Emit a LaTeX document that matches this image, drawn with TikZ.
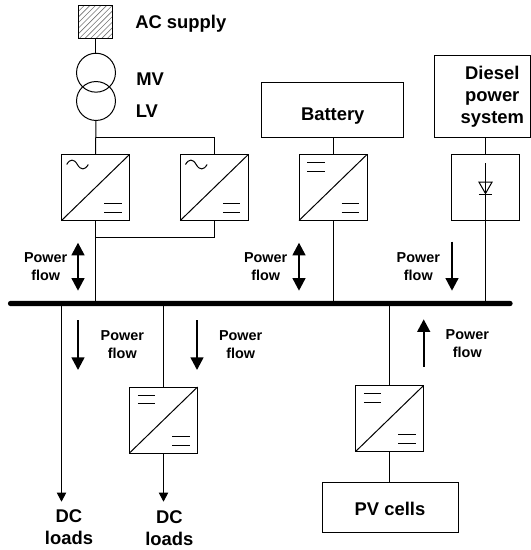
\documentclass[tikz,border=0pt]{standalone}
\usepackage{fontspec}
\setmainfont{Liberation Sans}
\usetikzlibrary{arrows.meta,calc}
\tikzset{
  wire/.style={line width=0.75pt,black},
  boxnode/.style={draw,line width=0.75pt,inner sep=0pt,outer sep=0pt},
  convbox/.style={boxnode,minimum width=51pt,minimum height=49.5pt},
  bigtext/.style={font=\bfseries\fontsize{13.8pt}{16.5pt}\selectfont,inner sep=0pt,align=center,anchor=base},
  flowtext/.style={font=\bfseries\fontsize{10.8pt}{13.5pt}\selectfont,inner sep=0pt,align=center,anchor=base},
  flowone/.style={line width=1.6pt,-{Triangle[length=9.5pt,width=9.6pt]}},
  flowtwo/.style={line width=1.6pt,{Triangle[length=9.5pt,width=9.6pt]}-{Triangle[length=9.5pt,width=9.6pt]}},
  loadarrow/.style={wire,-{Triangle[length=6.8pt,width=7pt]}}
}
\newcommand{\dcsymUL}[1]{%
  \draw[wire] ($(#1.north west)+(6.2pt,-6pt)$) -- ++(13pt,0pt);
  \draw[wire] ($(#1.north west)+(6.2pt,-12.4pt)$) -- ++(13pt,0pt);}
\newcommand{\dcsymLR}[1]{%
  \draw[wire] ($(#1.north west)+(32pt,-36.8pt)$) -- ++(13pt,0pt);
  \draw[wire] ($(#1.north west)+(32pt,-43.5pt)$) -- ++(13pt,0pt);}
\newcommand{\acsym}[1]{%
  \draw[wire] ($(#1.north west)+(3.9pt,-7.5pt)$)
    .. controls +(2.5pt,4.4pt) and +(-2.5pt,4.4pt) .. ++(8pt,0pt)
    .. controls +(2.5pt,-4.4pt) and +(-2.5pt,-4.4pt) .. ++(8.2pt,0pt);}
\newcommand{\diag}[1]{\draw[wire] (#1.south west) -- (#1.north east);}
\begin{document}
\begin{tikzpicture}[x=0.75pt,y=-0.75pt]
\useasboundingbox (0,0) rectangle (531,550);

% busbar
\node[fill=black,inner sep=0pt,outer sep=0pt,minimum width=378.6pt,minimum height=4pt,rounded corners=2pt] (bus) at (260.3,303.5) {};

% AC supply
\node[boxnode,minimum width=25pt,minimum height=25pt] (ac) at (95.5,21.7) {};
\begin{scope}
  \clip (ac.south west) rectangle (ac.north east);
  \foreach \d in {-30,-25.8,...,30}
    \draw[line width=0.45pt,black!55] ($(ac.south west)+(\d pt,-1pt)$) -- ++(28pt,28pt);
\end{scope}
\node[boxnode,minimum width=25pt,minimum height=25pt] at (ac.center) {};
\node[bigtext,anchor=base west] (aclabel) at (135,28) {AC supply};

% transformer
\node[circle,draw,line width=0.75pt,minimum size=29.2pt,inner sep=0pt,outer sep=0pt] (mv) at (96,72.7) {};
\node[circle,draw,line width=0.75pt,minimum size=29.2pt,inner sep=0pt,outer sep=0pt] (lv) at (96,101) {};
\node[bigtext,anchor=base west] (mvlabel) at (136,85) {MV};
\node[bigtext,anchor=base west] (lvlabel) at (135.5,117.7) {LV};

% converters
\node[convbox] (c1) at (95.5,187.5) {};
\node[convbox] (c2) at (214.3,187.5) {};
\node[convbox] (c3) at (333,187.5) {};
\node[boxnode,minimum width=50.7pt,minimum height=49.5pt] (c4) at (485.5,187.5) {};
\node[convbox] (c5) at (163.5,420) {};
\node[convbox] (c6) at (389.6,418.5) {};
\diag{c1}\diag{c2}\diag{c3}\diag{c5}\diag{c6}
\acsym{c1}\acsym{c2}
\dcsymLR{c1}\dcsymLR{c2}
\dcsymUL{c3}\dcsymLR{c3}
\dcsymUL{c5}\dcsymLR{c5}
\dcsymUL{c6}\dcsymLR{c6}

% sources
\node[boxnode,minimum width=106.5pt,minimum height=41pt] (batt) at (332,110.3) {};
\node[bigtext] (battlabel) at (332.7,120.7) {Battery};
\node[boxnode,minimum width=72pt,minimum height=62pt] (diesel) at (482.5,96.5) {};
\node[bigtext] (diesellabel) at (492.3,123) {Diesel\\power\\system};
\node[boxnode,minimum width=102pt,minimum height=37.2pt] (pv) at (390.3,507.2) {};
\node[bigtext] (pvlabel) at (390,515.7) {PV cells};

% wiring
\draw[wire] (ac.south) -- (ac.south |- mv.north);
\draw[wire] (lv.south) -- (c1.north);
\coordinate (tie1) at ($(c1.north)+(0,-17)$);
\draw[wire] (tie1) -| (c2.north);
\draw[wire] (c1.south) -- (c1.south |- bus.north);
\coordinate (tie2) at ($(c1.south)+(0,17)$);
\draw[wire] (tie2) -| (c2.south);
\draw[wire] (batt.south -| c3.north) -- (c3.north);
\draw[wire] (c3.south) -- (c3.south |- bus.north);
\draw[wire] (diesel.south -| c4.north) -- (c4.north);
\coordinate (dtop) at ($(c4.north)+(0,8.5)$);
\draw[wire] (dtop) -- (dtop |- bus.north);
\draw[wire] (c5.north |- bus.south) -- (c5.north);
\draw[wire] (c6.north |- bus.south) -- (c6.north);
\draw[wire] (c6.south) -- (c6.south |- pv.north);

% diode
\coordinate (dioL) at ($(c4.center)+(-6.6,-5.5)$);
\coordinate (dioR) at ($(c4.center)+(6.6,-5.5)$);
\coordinate (dioA) at ($(c4.center)+(0,6)$);
\draw[wire,line join=miter] (dioL) -- (dioR) -- (dioA) -- cycle;
\draw[wire] ($(dioA)+(-6.6,0.5)$) -- ($(dioA)+(6.6,0.5)$);

% loads
\coordinate (load1) at (61.5,501.7);
\coordinate (load2) at (163.5,501.7);
\draw[loadarrow] (load1 |- bus.south) -- (load1);
\draw[loadarrow] (c5.south) -- (load2);
\node[bigtext] (dc1) at (69,544) {DC\\loads};
\node[bigtext] (dc2) at (169.3,545.7) {DC\\loads};

% power flow arrows
\coordinate (f1a) at (78,242.7); \coordinate (f1b) at (78,290.7);
\coordinate (f2a) at (299,242.7); \coordinate (f2b) at (299,290.7);
\coordinate (f3a) at (452,241.5); \coordinate (f3b) at (452,290.7);
\coordinate (f4a) at (78,320); \coordinate (f4b) at (78,370);
\coordinate (f5a) at (197,320); \coordinate (f5b) at (197,370);
\coordinate (f6a) at (423.7,366.7); \coordinate (f6b) at (423.7,319.3);
\draw[flowtwo] (f1a) -- (f1b);
\draw[flowtwo] (f2a) -- (f2b);
\draw[flowone] (f3a) -- (f3b);
\draw[flowone] (f4a) -- (f4b);
\draw[flowone] (f5a) -- (f5b);
\draw[flowone] (f6a) -- (f6b);
\node[flowtext] (p1) at (45.7,280) {Power\\flow};
\node[flowtext] (p2) at (265.7,280) {Power\\flow};
\node[flowtext] (p3) at (418.3,280) {Power\\flow};
\node[flowtext] (p4) at (122.3,358.7) {Power\\flow};
\node[flowtext] (p5) at (240.7,358.7) {Power\\flow};
\node[flowtext] (p6) at (467.3,357) {Power\\flow};
\end{tikzpicture}
\end{document}
